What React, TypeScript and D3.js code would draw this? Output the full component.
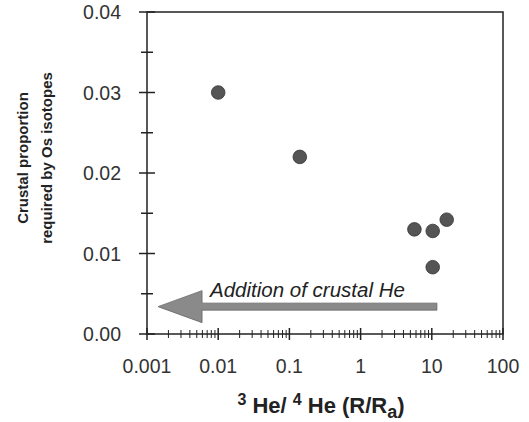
import React from "react";
import * as d3 from "d3";

// 3He/4He (R/Ra) vs crustal proportion from Os isotopes
const heRatio = [0.01, 0.14, 5.7, 10.3, 16.2, 10.3];
const crustalProp = [0.030, 0.022, 0.013, 0.0128, 0.0142, 0.0083];

const xTickLabels = ["0.001", "0.01", "0.1", "1", "10", "100"];
const yTickLabels = ["0.00", "0.01", "0.02", "0.03", "0.04"];

// arrow: "Addition of crustal He"
const arrowFrom = 11.8;
const arrowTo = 0.00143;
const arrowY = 0.0034;

const font = "'Liberation Sans', Arial, sans-serif";

const App = () => {
  const left = 147, right = 503, top = 12, bottom = 334;

  const x = d3.scaleLog().domain([0.001, 100]).range([left, right]);
  const y = d3.scaleLinear().domain([0, 0.04]).range([bottom, top]);

  const yMajor = yTickLabels.map(Number);
  const yMinor = d3.range(0.005, 0.04, 0.01);

  const xMajor = xTickLabels.map(Number);
  const xMinor = [];
  for (let d = 0; d < 5; d++) {
    for (let k = 2; k <= 9; k++) xMinor.push(k * xMajor[d]);
  }

  const ay = y(arrowY);
  const tipX = x(arrowTo);
  const baseX = tipX + 44;
  const tailX = x(arrowFrom);
  const arrowPath = `M ${tipX},${ay} L ${baseX},${ay - 16} L ${baseX},${ay - 3.5} L ${tailX},${ay - 3.5} L ${tailX},${ay + 3.5} L ${baseX},${ay + 3.5} L ${baseX},${ay + 16} Z`;

  return (
    <svg width={529} height={422} style={{ position: "absolute", left: 0, top: 0 }}>
      <rect x={0} y={0} width={529} height={422} fill="white" />
      <rect x={left} y={top} width={right - left} height={bottom - top} fill="none" stroke="#222" strokeWidth={1.5} />

      {/* y ticks */}
      {yMajor.map((d, i) => (
        <g key={"ym" + i}>
          <line x1={left - 8} x2={left + 8} y1={y(d)} y2={y(d)} stroke="#222" strokeWidth={1.5} />
          <text x={121} y={y(d) + 7} textAnchor="end" fontSize={19.5} fontFamily={font} fill="#333">{yTickLabels[i]}</text>
        </g>
      ))}
      {yMinor.map((d, i) => (
        <line key={"yn" + i} x1={left - 6} x2={left + 6} y1={y(d)} y2={y(d)} stroke="#222" strokeWidth={1.5} />
      ))}

      {/* x ticks */}
      {xMajor.map((d, i) => (
        <g key={"xm" + i}>
          <line x1={x(d)} x2={x(d)} y1={bottom - 6} y2={bottom + 6} stroke="#222" strokeWidth={1.5} />
          <text x={x(d)} y={373} textAnchor="middle" fontSize={19.5} fontFamily={font} fill="#333">{xTickLabels[i]}</text>
        </g>
      ))}
      {xMinor.map((d, i) => (
        <line key={"xn" + i} x1={x(d)} x2={x(d)} y1={bottom - 4} y2={bottom + 4} stroke="#222" strokeWidth={1} />
      ))}

      {/* points */}
      {heRatio.map((d, i) => (
        <circle key={"p" + i} cx={x(d)} cy={y(crustalProp[i])} r={6.8} fill="#555" stroke="#333" strokeWidth={0.8} />
      ))}

      {/* arrow */}
      <path d={arrowPath} fill="#8a8a8a" stroke="#666" strokeWidth={0.8} />
      <text x={210} y={297} fontSize={20.5} fontStyle="italic" fontFamily={font} fill="#222">Addition of crustal He</text>

      {/* axis titles */}
      <text x={321} y={413} textAnchor="middle" fontSize={22} fontFamily={font} fill="#222" fontWeight="bold">
        <tspan fontSize={16} dy={-8}>3</tspan>
        <tspan dy={8}> He/ </tspan>
        <tspan fontSize={16} dy={-8}>4</tspan>
        <tspan dy={8}> He (R/R</tspan>
        <tspan fontSize={18} dy={5}>a</tspan>
        <tspan dy={-5}>)</tspan>
      </text>
      <g transform="translate(0, 158) rotate(-90)">
        <text x={0} y={28} textAnchor="middle" fontSize={15} fontFamily={font} fill="#222" fontWeight="bold">Crustal proportion</text>
        <text x={0} y={52} textAnchor="middle" fontSize={15} fontFamily={font} fill="#222" fontWeight="bold">required by Os isotopes</text>
      </g>
    </svg>
  );
};

export default App;
